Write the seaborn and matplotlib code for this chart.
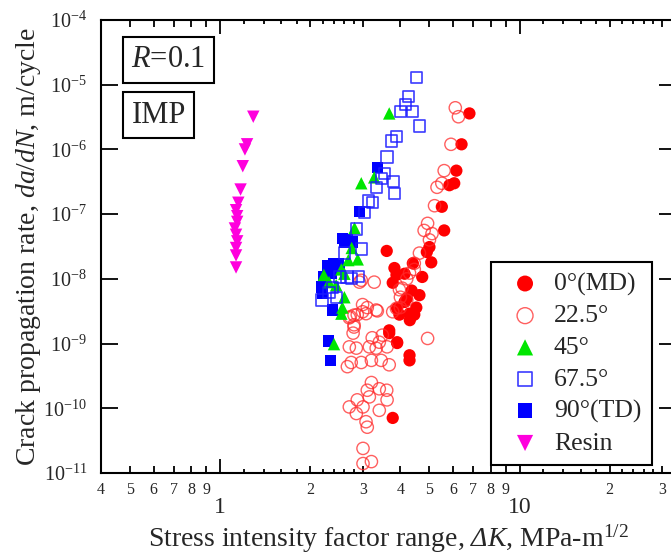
import numpy as np
import matplotlib
matplotlib.use("Agg")
import matplotlib.pyplot as plt
from matplotlib.ticker import FixedLocator, FuncFormatter, NullLocator
import seaborn as sns

# values: dK in MPa-m^1/2, da/dN in m/cycle
md_dk = [6.8, 6.4, 6.15, 6.05, 5.83, 5.5, 5.6, 5.0, 4.9, 4.4, 4.73, 3.88, 3.77, 3.6,
         4.2, 4.4, 4.3, 3.9, 3.67, 3.9, 4.29, 4.45, 3.67, 3.9, 4.29, 4.29, 3.77,
         3.82, 4.13, 5.07, 4.36, 4.13, 4.63, 3.97, 4.52]
md_rate = [3.6e-6, 1.2e-6, 4.7e-7, 3.0e-7, 2.8e-7, 1.3e-7, 5.6e-8, 3.1e-8, 2.6e-8, 1.74e-8,
           1.07e-8, 1.15e-8, 8.7e-9, 2.7e-8, 5.0e-9, 2.75e-9, 2.3e-9, 3.5e-9, 1.6e-9, 1.02e-9,
           2.9e-9, 2.8e-9, 1.45e-9, 1.05e-9, 6.6e-10, 5.5e-10, 7.1e-11,
           1.47e-8, 1.2e-8, 1.8e-8, 6.6e-9, 4.4e-9, 5.6e-9, 2.8e-9, 3.6e-9]

d225_dk = [6.1, 6.25, 5.9, 5.6, 5.3, 5.5, 5.2, 4.93, 4.8, 5.1, 5.0, 4.63, 4.45, 4.45, 4.29,
           4.2, 4.05, 4.0, 4.2, 3.88, 3.97, 4.93,
           2.99, 3.35, 2.72, 2.87, 3.07, 2.8, 2.78, 2.7, 2.85, 3.22, 3.4, 3.48, 3.61, 3.15,
           3.32, 2.74, 2.66, 2.96, 3.2, 3.45, 3.67, 3.2, 3.1, 3.4, 3.6, 2.87, 2.7, 3.0,
           3.15, 3.61, 3.4, 2.85, 3.07, 3.1, 3.0, 3.0, 3.2, 2.7, 2.8, 2.99, 3.32, 3.27,
           2.92, 3.77, 4.0, 2.96, 2.8, 3.1]
d225_rate = [4.4e-6, 3.2e-6, 1.2e-6, 4.7e-7, 2.6e-7, 3.0e-7, 1.35e-7, 7.2e-8, 5.6e-8, 5.0e-8,
             4.0e-8, 2.5e-8, 1.4e-8, 1.74e-8, 1.23e-8, 1.0e-8, 7.2e-9, 5.2e-9, 4.7e-9, 3.5e-9,
             6.8e-9, 1.2e-9,
             4.0e-9, 3.2e-9, 2.6e-9, 2.8e-9, 2.9e-9, 1.8e-9, 1.45e-9, 8.9e-10, 8.5e-10, 1.23e-9,
             1.05e-9, 1.35e-9, 8.9e-10, 8.9e-10, 8.5e-10, 5.1e-10, 4.4e-10, 5.1e-10, 5.5e-10,
             5.5e-10, 4.7e-10, 2.5e-10, 1.9e-10, 2.0e-10, 1.9e-10, 1.35e-10, 1.05e-10, 1.05e-10,
             1.5e-10, 1.35e-10, 9.3e-11, 8.3e-11, 6.2e-11, 5.1e-11, 2.4e-11, 1.4e-11, 1.5e-11,
             2.5e-9, 1.95e-9, 3.1e-9, 3.3e-9, 8.9e-9, 8.9e-9, 3.1e-9, 3.6e-9, 9.5e-9, 2.75e-9,
             3.6e-9]

d45_dk = [3.67, 2.96, 3.27, 2.81, 2.88, 2.68, 2.22, 2.54, 2.31, 2.6, 2.56, 2.54, 2.44, 2.40,
          2.75, 2.6]
d45_rate = [3.6e-6, 3.0e-7, 3.7e-7, 6.1e-8, 2.0e-8, 1.95e-8, 1.15e-8, 1.4e-8, 8.9e-9, 5.2e-9,
            3.6e-9, 2.9e-9, 8.0e-9, 9.8e-10, 3.0e-8, 1.2e-8]

d675_dk = [4.53, 4.26, 4.15, 4.0, 4.39, 4.63, 3.88, 3.73, 3.61, 3.53, 3.79, 3.45, 3.32, 3.82,
           3.13, 3.22, 3.03, 2.85, 2.96, 2.60, 2.74, 2.5, 2.65, 2.37, 2.19, 2.44, 2.31, 2.9]
d675_rate = [1.3e-5, 6.5e-6, 5.0e-6, 3.9e-6, 3.9e-6, 2.3e-6, 1.6e-6, 1.35e-6, 7.6e-7, 4.3e-7,
             3.2e-7, 3.6e-7, 2.6e-7, 2.1e-7, 1.6e-7, 1.5e-7, 1.07e-7, 5.9e-8, 2.9e-8, 2.5e-8,
             1.0e-8, 1.07e-8, 1.07e-8, 7.4e-9, 4.7e-9, 5.2e-9, 6.2e-9, 1.1e-8]

td_dk = [2.92, 3.35, 2.66, 2.56, 2.76, 2.28, 2.4, 2.48, 2.19, 2.22, 2.37, 2.30, 2.33, 2.2,
         2.5, 2.35, 2.6]
td_rate = [1.1e-7, 5.2e-7, 4.1e-8, 4.2e-8, 3.7e-8, 1.6e-8, 1.7e-8, 1.7e-8, 7.5e-9, 1.07e-8,
           3.3e-9, 1.1e-9, 5.5e-10, 6.0e-9, 1.4e-8, 1.2e-8, 3.6e-8]

resin_dk = [1.29, 1.23, 1.21, 1.19, 1.17, 1.15, 1.13, 1.14, 1.14, 1.12, 1.13, 1.14, 1.13,
            1.13, 1.13]
resin_rate = [3.2e-6, 1.2e-6, 1.0e-6, 5.5e-7, 2.4e-7, 1.5e-7, 1.15e-7, 9.3e-8, 7.6e-8, 6.0e-8,
              4.8e-8, 3.8e-8, 3.0e-8, 2.3e-8, 1.5e-8]

# x ticks: labelled minor ticks and small unlabelled ones
x_major = [1, 10]
x_minor_lab = [0.4, 0.5, 0.6, 0.7, 0.8, 0.9, 2, 3, 4, 5, 6, 7, 8, 9, 20, 30]
x_minor_small = [1.2, 1.4, 1.6, 1.8, 2.2, 2.4, 2.6, 2.8, 12, 14, 16, 18, 22, 24, 26, 28]

sns.set_style("ticks")
plt.rcParams["font.family"] = ["Liberation Serif", "DejaVu Serif"]
plt.rcParams["mathtext.fontset"] = "custom"
plt.rcParams["mathtext.rm"] = "Liberation Serif"
plt.rcParams["mathtext.it"] = "Liberation Serif:italic"
plt.rcParams["mathtext.sf"] = "Liberation Serif:italic"

fig = plt.figure(figsize=(6.71, 5.58), dpi=100)
ax = fig.add_axes([101 / 671, 85 / 558, 575 / 671, 453 / 558])

# filled circles, then open circles on top
sns.scatterplot(x=md_dk, y=md_rate, ax=ax, marker="o", s=78, color="#ff0000",
                edgecolor="none", label="0°(MD)", zorder=3)
sns.scatterplot(x=d225_dk, y=d225_rate, ax=ax, marker="o", s=78, facecolor="none",
                edgecolor="#ff2a2a", linewidth=1.0, alpha=0.75, label="22.5°", zorder=4)
sns.scatterplot(x=td_dk, y=td_rate, ax=ax, marker="s", s=66, color="#0000ff",
                edgecolor="none", label="90°(TD)", zorder=3)
sns.scatterplot(x=d45_dk, y=d45_rate, ax=ax, marker="^", s=80, color="#00e600",
                edgecolor="none", label="45°", zorder=4)
sns.scatterplot(x=d675_dk, y=d675_rate, ax=ax, marker="s", s=66, facecolor="none",
                edgecolor="#1a1aff", linewidth=1.2, alpha=0.85, label="67.5°", zorder=5)
sns.scatterplot(x=resin_dk, y=resin_rate, ax=ax, marker="v", s=80, color="#ff00dd",
                edgecolor="none", label="Resin", zorder=4)

ax.set_xscale("log")
ax.set_yscale("log")
ax.set_xlim(0.4, 33.3)
ax.set_ylim(1e-11, 1e-4)

minor_all = sorted(x_minor_lab + x_minor_small)


def minor_label(v, p):
    if any(abs(v - s) < 1e-6 for s in x_minor_small):
        return ""
    return f"{v / 10 ** np.floor(np.log10(v) + 1e-9):.0f}"


ax.xaxis.set_major_locator(FixedLocator(x_major))
ax.xaxis.set_minor_locator(FixedLocator(minor_all))
ax.xaxis.set_major_formatter(FuncFormatter(lambda v, p: f"{v:g}"))
ax.xaxis.set_minor_formatter(FuncFormatter(minor_label))
ax.yaxis.set_major_locator(FixedLocator([10.0 ** k for k in range(-11, -3)]))
ax.yaxis.set_minor_locator(NullLocator())
ax.yaxis.set_major_formatter(FuncFormatter(
    lambda v, p: f"$10^{{{int(round(np.log10(v)))}}}$"))

ax.tick_params(which="both", direction="in", top=True, right=True, width=1.3, color="black")
ax.tick_params(axis="x", which="major", length=10, pad=17, labelsize=17)
ax.tick_params(axis="x", which="minor", length=5, pad=6.5, labelsize=11.5)
ax.tick_params(axis="y", which="major", length=12, pad=10, labelsize=14.5)
for tick, loc in zip(ax.xaxis.get_minor_ticks(len(minor_all)), minor_all):
    if loc in x_minor_small:
        tick.tick1line.set_markersize(3)
        tick.tick2line.set_markersize(3)
for sp in ax.spines.values():
    sp.set_linewidth(1.5)
    sp.set_color("black")

ax.set_ylabel("Crack propagation rate, $\\mathit{da/dN}$, m/cycle", fontsize=20)
ax.yaxis.set_label_coords(-0.10, 0.5)
ax.set_xlabel("Stress intensity factor range, $\\mathsf{ΔK}$, MPa-m$^{1/2}$", fontsize=20)
ax.xaxis.set_label_coords(0.5, -0.163)
ax.xaxis.label.set_va("baseline")

box = dict(boxstyle="square,pad=0.27", fc="white", ec="black", lw=1.5)
ax.text(0.053, 0.944, "$\\mathit{R}$=0.1", transform=ax.transAxes, fontsize=22,
        ha="left", va="top", bbox=box, zorder=6)
ax.text(0.053, 0.822, "IMP", transform=ax.transAxes, fontsize=22,
        ha="left", va="top", bbox=box, zorder=6)

handles, labels = ax.get_legend_handles_labels()
order = ["0°(MD)", "22.5°", "45°", "67.5°", "90°(TD)", "Resin"]
hmap = dict(zip(labels, handles))
leg = ax.legend([hmap[k] for k in order], order, loc="upper left",
                bbox_to_anchor=(491 / 671, 1 - 262 / 558), bbox_transform=fig.transFigure,
                fontsize=18.5, frameon=True, fancybox=False, edgecolor="black",
                framealpha=1, borderpad=0.4, handlelength=1.85, handletextpad=0.2,
                labelspacing=0.34, markerscale=1.3, borderaxespad=0, scatterpoints=1)
leg.get_frame().set_linewidth(1.5)
leg.set_zorder(7)

fig.savefig("out.png", dpi=100)
